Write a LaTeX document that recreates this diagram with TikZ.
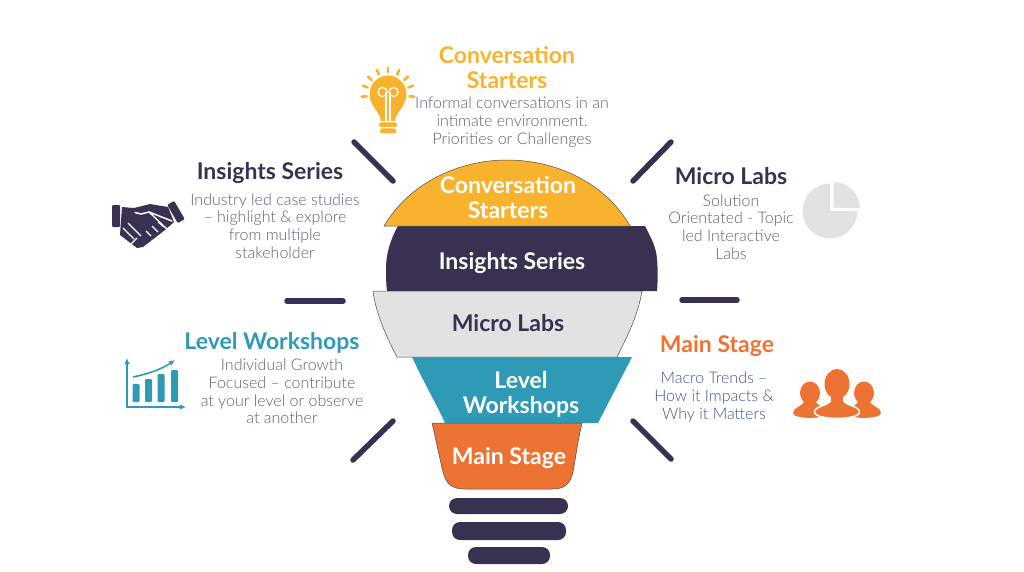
\documentclass[tikz,border=0pt]{standalone}
\usepackage{fontspec}
\setmainfont{Lato}
\newfontfamily\bodyfont{Lato Light}
\usetikzlibrary{arrows.meta}

\definecolor{bulbyellow}{HTML}{F9B22D}
\definecolor{bulbnavy}{HTML}{3A3052}
\definecolor{bulbgray}{HTML}{E2E2E2}
\definecolor{bulbteal}{HTML}{2E9AB5}
\definecolor{bulborange}{HTML}{EC7332}
\definecolor{bodygray}{HTML}{5F5B76}
\definecolor{bodyblue}{HTML}{3F5586}

\tikzset{
    band/.style={draw=black!70, line width=0.5pt},
    bandlabel/.style={text=white, font=\fontsize{23}{25}\selectfont\bfseries, align=center, inner sep=0pt},
    headlabel/.style={font=\fontsize{23}{25}\selectfont\bfseries, align=center, inner sep=0pt},
    bodylabel/.style={text=bodygray, font=\bodyfont\fontsize{16}{17.8}\selectfont, align=center, inner sep=0pt},
    ray/.style={bulbnavy, line width=5.5pt, line cap=round},
    basebar/.style={fill=bulbnavy, rounded corners=8pt}
}

\begin{document}
\begin{tikzpicture}[x=1pt,y=-1pt]

    \useasboundingbox (0,0) rectangle (1024,572);

    % bulb bands
    \fill[bulbnavy] (398,226) .. controls (390,240) and (386,255) .. (386,268) .. controls (386,276) and (386,284) .. (387,291) -- (657,291) .. controls (658,280) and (658,262) .. (656,252) .. controls (654,243) and (650,236) .. (645,226) -- cycle;
    \draw[band, fill=bulbyellow] (384,226) .. controls (410,182) and (460,160) .. (507,160) .. controls (555,160) and (605,182) .. (630,226) -- cycle;
    \draw[band, fill=bulbgray] (373,291) .. controls (376,315) and (388,340) .. (397,357) -- (617,357) .. controls (628,335) and (638,315) .. (642,291) -- cycle;
    \fill[bulbteal] (412,357) .. controls (425,385) and (437,405) .. (445,423) -- (598,423) -- (632,357) -- cycle;
    \draw[band, fill=bulborange] (432,423) .. controls (436,440) and (440,460) .. (443,472) .. controls (446,484) and (452,489) .. (465,489) -- (552,489) .. controls (565,489) and (570,484) .. (573,472) .. controls (576,455) and (578,440) .. (582,423) -- cycle;

    % base of the bulb
    \fill[basebar] (449,498) rectangle (568,514);
    \fill[basebar] (452,522) rectangle (566,540);
    \fill[basebar] (468,547) rectangle (550,564);

    % rays
    \foreach \xa/\ya/\xb/\yb in {354/142/393/181, 633/181/671/142, 287/301/343/301, 682/300/737/300, 353/460/393/421, 633/421/671/459}
    \draw[ray] (\xa,\ya) -- (\xb,\yb);

    % labels on the bands
    \node (bandconv) [bandlabel] at (508,198) {Conversation\\Starters};
    \node (bandins) [bandlabel] at (512,263) {Insights Series};
    \node (bandmicro) [bandlabel, text=bulbnavy] at (508,323.5) {Micro Labs};
    \node (bandlevel) [bandlabel] at (521,394.5) {Level\\Workshops};
    \node (bandmain) [bandlabel] at (509,458.5) {Main Stage};

    % texts round the bulb
    \node (headconv) [headlabel, text=bulbyellow] at (507,68) {Conversation\\Starters};
    \node (bodyconv) [bodylabel] at (512,122) {Informal conversations in an\\intimate environment.\\Priorities or Challenges};
    \node (headins) [headlabel, text=bulbnavy] at (270,173) {Insights Series};
    \node (bodyins) [bodylabel] at (275,226) {Industry led case studies\\– highlight \& explore\\from multiple\\stakeholder};
    \node (headmicro) [headlabel, text=bulbnavy] at (731,176.5) {Micro Labs};
    \node (bodymicro) [bodylabel] at (731,227) {Solution\\Orientated - Topic\\led Interactive\\Labs};
    \node (headlevel) [headlabel, text=bulbteal] at (272,343) {Level Workshops};
    \node (bodylevel) [bodylabel] at (282,391.5) {Individual Growth\\Focused – contribute\\at your level or observe\\at another};
    \node (headmain) [headlabel, text=bulborange] at (717,346) {Main Stage};
    \node (bodymain) [bodylabel, text=bodyblue] at (714,397) {Macro Trends –\\How it Impacts \&\\Why it Matters};

    % lamp icon
    \foreach \a in {90,65,41,18,-6,115,139,162,186}
    \draw[bulbyellow, line width=2.6pt, line cap=round] ({388+21.5*cos(\a)},{94-21.5*sin(\a)}) -- ({388+26.5*cos(\a)},{94-26.5*sin(\a)});
    \fill[bulbyellow] (381,121) .. controls (380,112) and (369.5,106) .. (369.5,94) .. controls (369.5,84) and (378,75.5) .. (388,75.5) .. controls (398,75.5) and (406.5,84) .. (406.5,94) .. controls (406.5,106) and (396,112) .. (395,121) -- cycle;
    \draw[white, line width=1.2pt] (386,121) -- (386,92) (390,121) -- (390,92);
    \draw[white, line width=1.2pt] (382.5,92) circle[radius=4.5] (393.5,92) circle[radius=4.5];
    \fill[bulbyellow, rounded corners=1.5pt] (379,122.5) rectangle (397,127);
    \fill[bulbyellow, rounded corners=1.5pt] (380,128.5) rectangle (396,133.5);

    % handshake icon
    \fill[bulbnavy, rounded corners=1pt] (112,205) rectangle (120,227);
    \fill[bulbnavy, rounded corners=1pt, rotate around={30:(176,212)}] (172,201.5) rectangle (180,222.5);
    \fill[bulbnavy] (122,207) -- (134,208) -- (150,204) -- (168,207) -- (174,222) -- (165,230) -- (143,247) -- (137,248) -- (120,235) -- cycle;
    \draw[white, line width=1.5pt, line cap=round] (172,221) -- (149,212) -- (141,214) -- (135,212.5);
    \draw[white, line width=1.3pt] (149,212) -- (168,230);
    \foreach \xa/\ya/\xb/\yb in {123/228/134/239, 128/223/141/236, 137/238/131/244, 146/231/151/236, 152/226/158/232, 158/222/164/227}
    \draw[white, line width=1.2pt] (\xa,\ya) -- (\xb,\yb);

    % chart icon
    \draw[bulbteal, line width=1.6pt, {Latex[length=6pt,width=5.5pt]}-{Latex[length=6pt,width=5.5pt]}] (127,358) -- (127,407) -- (186,407);
    \draw[bulbteal, line width=1.6pt, -{Latex[length=6pt,width=5.5pt]}] (133,377) .. controls (148,374) and (162,369) .. (175,360);
    \foreach \xa/\xb/\yt in {132.5/139.5/384, 145/152/379, 157.5/164.5/374, 171/178/370}
    \fill[bulbteal, rounded corners=1pt] (\xa,\yt) rectangle (\xb,402);

    % pie icon
    \fill[bulbgray] (830,211) -- (830,183.5) arc[start angle=-90, delta angle=-270, radius=27.5] -- cycle;
    \fill[bulbgray] (833.5,207.5) -- (833.5,182) arc[start angle=-90, delta angle=90, radius=26.5] -- cycle;

    % people icon
    \foreach \cx/\sgn in {810/1, 864/-1} {
        \fill[bulborange] (\cx,393) ellipse[x radius=10, y radius=11.5];
        \fill[bulborange] ({\cx-17*\sgn},413) .. controls ({\cx-17*\sgn},407) and ({\cx-7*\sgn},407) .. ({\cx-5*\sgn},400) -- ({\cx+5*\sgn},400) .. controls ({\cx+7*\sgn},407) and ({\cx+17*\sgn},407) .. ({\cx+17*\sgn},413) .. controls ({\cx+17*\sgn},419.5) and ({\cx-17*\sgn},419.5) .. ({\cx-17*\sgn},413) -- cycle;
    }
    \draw[white, line width=1.5pt, fill=bulborange] (814.5,412) .. controls (814.5,406) and (828,406) .. (831,400) -- (843,400) .. controls (846,406) and (859.5,406) .. (859.5,412) .. controls (859.5,420.5) and (814.5,420.5) .. (814.5,412) -- cycle;
    \fill[bulborange] (837,384) ellipse[x radius=12.5, y radius=15];
    \fill[bulborange] (831,395) rectangle (843,404);

\end{tikzpicture}
\end{document}
